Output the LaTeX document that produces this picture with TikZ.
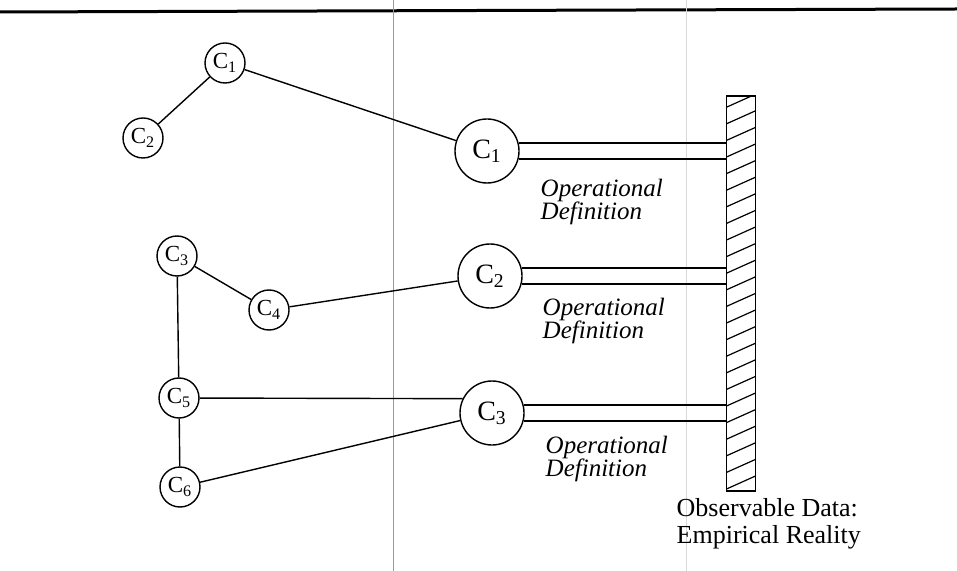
\documentclass[tikz,border=0pt]{standalone}
\usepackage{fontspec}
\setmainfont{Liberation Serif}
\begin{document}
\begin{tikzpicture}[x=0.5pt,y=-0.5pt,
  line width=0.7pt,
  small/.style={circle,draw,minimum size=20pt,inner sep=0pt,font=\fontsize{11.5pt}{12pt}\selectfont},
  big/.style={circle,draw,minimum size=32pt,inner sep=0pt,font=\fontsize{14pt}{14pt}\selectfont},
  opdef/.style={anchor=north west,inner sep=0pt,align=left,font=\fontsize{12.5pt}{11.5pt}\selectfont\itshape},
  artifact/.style={draw=black!40,line width=0.5pt}]
\useasboundingbox (0,0) rectangle (957,571);
% page artifacts
\draw[line width=1.5pt] (0,12) coordinate (tl) -- (957,9) coordinate (tr);
\draw[artifact] (393,0) coordinate (va) -- (393,571) coordinate (vb);
\draw[draw=black!15,line width=0.4pt] (686,0) coordinate (vc) -- (686,571) coordinate (vd);
% wall
\node[draw,line width=0.8pt,rectangle,minimum width=14.5pt,minimum height=197.5pt,inner sep=0pt,
  path picture={
    \foreach \k in {-1,...,24}{
      \draw[line width=0.6pt] ([yshift=\k*8.3pt+1pt]path picture bounding box.south west) -- ++(14.5pt,6.5pt);
    }
  }] (wall) at (741,293.5) {};
% concept circles
\node[small] (s1) at (225,63) {C\textsubscript{1}};
\node[small] (s2) at (143,138) {C\textsubscript{2}};
\node[small] (s3) at (177,256) {C\textsubscript{3}};
\node[small] (s4) at (269,310) {C\textsubscript{4}};
\node[small] (s5) at (179,398) {C\textsubscript{5}};
\node[small] (s6) at (180,487) {C\textsubscript{6}};
\node[big] (b1) at (487,151) {C\textsubscript{1}};
\node[big] (b2) at (490,276) {C\textsubscript{2}};
\node[big] (b3) at (492,413) {C\textsubscript{3}};
% links
\draw (s1) -- (s2);
\draw (s1) -- (b1);
\draw (s3) -- (s4);
\draw (s3) -- (s5);
\draw (s4) -- (b2);
\draw (s5) -- (b3.154);
\draw (s5) -- (s6);
\draw (s6) -- (b3);
% operational definitions (double lines)
\foreach \b in {b1,b2,b3}{
  \draw (\b.14.5) -- (\b.14.5 -| wall.west);
  \draw (\b.-14.5) -- (\b.-14.5 -| wall.west);
}
% labels
\node[opdef] (od1) at (540,178) {Operational\\Definition};
\node[opdef] (od2) at (542,297) {Operational\\Definition};
\node[opdef] (od3) at (545,435) {Operational\\Definition};
\node[anchor=north west,inner sep=0pt,align=left,font=\fontsize{13pt}{13.5pt}\selectfont] (obs) at (676,498) {Observable Data:\\Empirical Reality};
\end{tikzpicture}
\end{document}
